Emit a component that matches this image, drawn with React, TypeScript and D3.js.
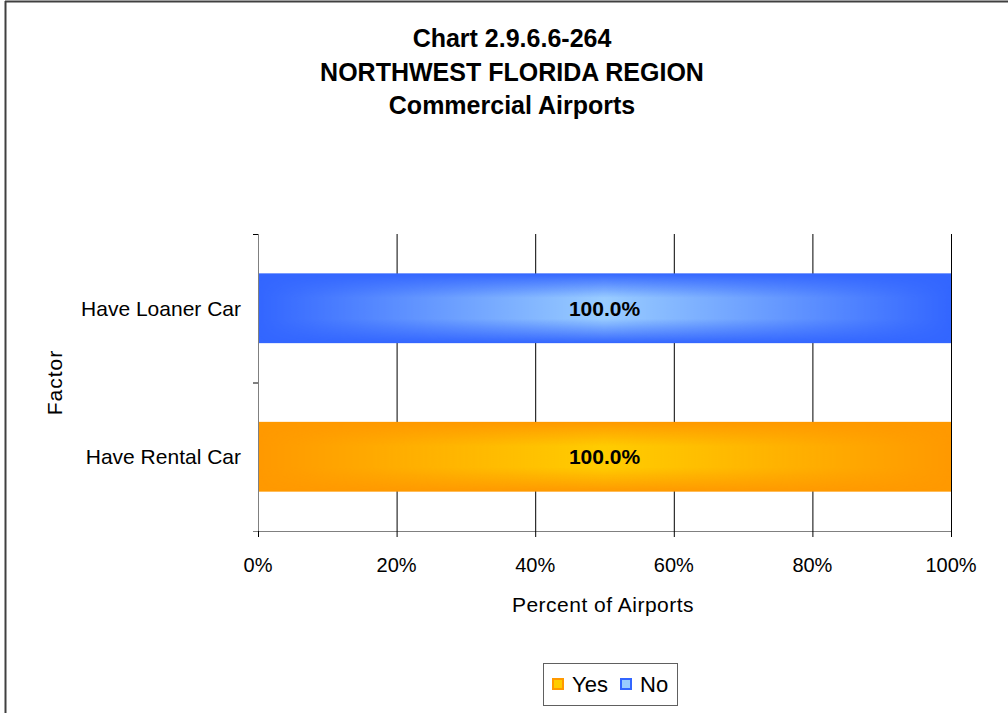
import React from "react";
import * as d3 from "d3";

const categories = ["Have Loaner Car", "Have Rental Car"];
const seriesNames = ["Yes", "No"];
const yesValues = [0, 100];
const noValues = [100, 0];
const xTicks = [0, 20, 40, 60, 80, 100];
const titleLines = ["Chart 2.9.6.6-264", "NORTHWEST FLORIDA REGION", "Commercial Airports"];

const colors: Record<string, { dark: string; light: string }> = {
  Yes: { dark: "#FF9900", light: "#FFCC00" },
  No: { dark: "#3366FF", light: "#99CCFF" },
};

const W = 1008;
const H = 713;
const plot = { left: 258, right: 951, top: 234, bottom: 531 };
const FONT = "'Liberation Sans', Arial, Helvetica, sans-serif";

export default function App() {
  const x = d3.scaleLinear().domain([0, 100]).range([plot.left, plot.right]);
  const y = d3
    .scaleBand<string>()
    .domain(categories)
    .range([plot.top, plot.bottom])
    .paddingInner(0.53)
    .paddingOuter(0.265);
  const step = y.step();

  const table = categories.map((c, i) => ({ cat: c, Yes: yesValues[i], No: noValues[i] }));
  const stacked = d3.stack<any>().keys(seriesNames)(table);

  const bars: any[] = [];
  stacked.forEach((layer) => {
    layer.forEach((d: any) => {
      const w = x(d[1]) - x(d[0]);
      if (w <= 0) return;
      bars.push({
        key: layer.key,
        cat: d.data.cat,
        x0: x(d[0]),
        x1: x(d[1]),
        y0: y(d.data.cat)!,
        h: y.bandwidth(),
        value: d[1] - d[0],
      });
    });
  });

  const catBoundaries = d3.range(categories.length + 1).map((i) => plot.top + i * step);

  return (
    <svg width={W} height={H} style={{ position: "absolute", left: 0, top: 0, display: "block" }}>
      <defs>
        <linearGradient id="hmask" x1="0" x2="1" y1="0" y2="0">
          <stop offset="0" stopColor="#000" />
          <stop offset="0.5" stopColor="#fff" />
          <stop offset="1" stopColor="#000" />
        </linearGradient>
        {seriesNames.map((s) => (
          <linearGradient key={s} id={`v-${s}`} x1="0" x2="0" y1="0" y2="1">
            <stop offset="0" stopColor={colors[s].light} stopOpacity="0" />
            <stop offset="0.35" stopColor={colors[s].light} stopOpacity="1" />
            <stop offset="0.65" stopColor={colors[s].light} stopOpacity="1" />
            <stop offset="1" stopColor={colors[s].light} stopOpacity="0" />
          </linearGradient>
        ))}
        {bars.map((b, i) => (
          <mask key={i} id={`m-${i}`} maskUnits="userSpaceOnUse" x={b.x0} y={b.y0} width={b.x1 - b.x0} height={b.h}>
            <rect x={b.x0} y={b.y0} width={b.x1 - b.x0} height={b.h} fill="url(#hmask)" />
          </mask>
        ))}
      </defs>
      <rect x={0} y={0} width={W} height={H} fill="#fff" />
      {/* outer frame */}
      <line x1={5.5} x2={5.5} y1={1} y2={H} stroke="#404040" strokeWidth={2} />
      <line x1={5} x2={W} y1={1.5} y2={1.5} stroke="#404040" strokeWidth={2} />

      {/* title */}
      {titleLines.map((t, i) => (
        <text
          key={i}
          x={512}
          y={47 + i * 33.5}
          textAnchor="middle"
          fontFamily={FONT}
          fontWeight="bold"
          fontSize={25}
          fill="#000"
        >
          {t}
        </text>
      ))}

      {/* gridlines */}
      {xTicks.slice(1).map((t) => (
        <line key={t} x1={x(t) + 0.5} x2={x(t) + 0.5} y1={plot.top} y2={plot.bottom} stroke="#000" strokeWidth={1} />
      ))}

      {/* bars */}
      {bars.map((b, i) => (
        <g key={i}>
          <rect x={b.x0} y={b.y0} width={b.x1 - b.x0} height={b.h} fill={colors[b.key].dark} />
          <g mask={`url(#m-${i})`}>
            <rect x={b.x0} y={b.y0} width={b.x1 - b.x0} height={b.h} fill={`url(#v-${b.key})`} />
          </g>
          <text
            x={(b.x0 + b.x1) / 2}
            y={b.y0 + b.h / 2 + 7.5}
            textAnchor="middle"
            fontFamily={FONT}
            fontWeight="bold"
            fontSize={21}
            fill="#000"
          >
            {b.value.toFixed(1) + "%"}
          </text>
        </g>
      ))}

      {/* y axis */}
      <line x1={plot.left + 0.5} x2={plot.left + 0.5} y1={plot.top} y2={plot.bottom} stroke="#808080" strokeWidth={1} />
      {catBoundaries.map((yy, i) => (
        <line key={i} x1={plot.left - 5} x2={plot.left} y1={yy + 0.5} y2={yy + 0.5} stroke="#000" strokeWidth={1} />
      ))}
      {categories.map((c) => (
        <text
          key={c}
          x={241}
          y={y(c)! + y.bandwidth() / 2 + 7.5}
          textAnchor="end"
          fontFamily={FONT}
          fontSize={21}
          fill="#000"
        >
          {c}
        </text>
      ))}
      <text
        transform={`translate(62, ${(plot.top + plot.bottom) / 2}) rotate(-90)`}
        textAnchor="middle"
        fontFamily={FONT}
        fontSize={21}
        letterSpacing={1}
        fill="#000"
      >
        Factor
      </text>

      {/* x axis */}
      <line x1={plot.left - 5} x2={plot.right} y1={plot.bottom + 0.5} y2={plot.bottom + 0.5} stroke="#808080" strokeWidth={1} />
      {xTicks.map((t) => (
        <g key={t}>
          <line x1={x(t) + 0.5} x2={x(t) + 0.5} y1={plot.bottom} y2={plot.bottom + 6} stroke="#000" strokeWidth={1} />
          <text x={x(t)} y={572} textAnchor="middle" fontFamily={FONT} fontSize={20} fill="#000">
            {t + "%"}
          </text>
        </g>
      ))}
      <text x={603} y={612} textAnchor="middle" fontFamily={FONT} fontSize={21} letterSpacing={0.5} fill="#000">
        Percent of Airports
      </text>

      {/* legend */}
      <rect x={543.5} y={663.5} width={134} height={42} fill="#fff" stroke="#606060" strokeWidth={1} />
      {seriesNames.map((s, i) => {
        const lx = 553 + i * 68;
        return (
          <g key={s}>
            <rect x={lx} y={679} width={10} height={10} fill={colors[s].light} stroke={colors[s].dark} strokeWidth={2} />
            <text x={lx + 19} y={692} fontFamily={FONT} fontSize={22} fill="#000">
              {s}
            </text>
          </g>
        );
      })}
    </svg>
  );
}
